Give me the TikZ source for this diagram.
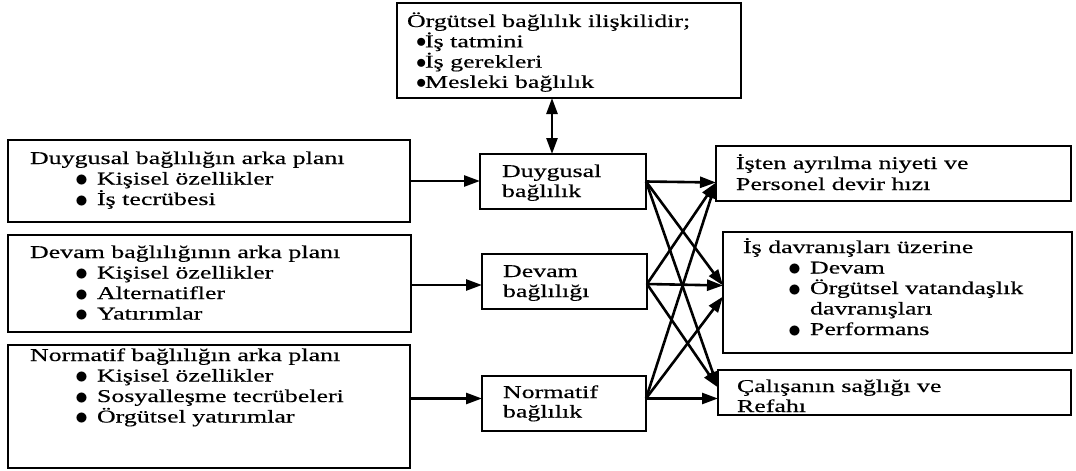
\documentclass[tikz,border=0pt]{standalone}
\usepackage{fontspec}
\usepackage{graphicx}
\setmainfont{Liberation Serif}[FakeStretch=1.44, FakeBold=0.35]
\usetikzlibrary{arrows.meta}

% stacked lines of text whose first baseline sits on the node's base
\newcommand\tlines[2]{\vtop{\baselineskip=#1\lineskiplimit=-20pt\halign{##\hfil\cr#2\crcr}}}
% indented bullet of the list boxes
\newcommand\lb{\hspace*{45pt}\makebox[22pt][l]{\raisebox{-2.2pt}{\scalebox{1.5}{$\bullet$}}}}
% tight bullet of the top box
\newcommand\tb{\hspace*{9pt}\makebox[9pt][l]{\raisebox{-0.5pt}{\scalebox{1.2}{$\bullet$}}}}

\tikzset{
  box/.style={draw=black, line width=1.6pt, inner sep=0pt, outer sep=0pt},
  txt/.style={anchor=base west, inner sep=0pt, outer sep=0pt,
              font=\fontsize{18pt}{20pt}\selectfont},
  tip/.tip={Triangle[length=16pt,width=11pt]},
  arr/.style={line width=2.6pt, -tip},
  darr/.style={line width=2.6pt, tip-tip}
}

\begin{document}
\begin{tikzpicture}[x=1pt, y=-1pt]
\useasboundingbox[fill=white] (0,0) rectangle (1076,471);

% boxes
\node[box, minimum width=344pt, minimum height=95pt]  (T)  at (569,50.5) {};
\node[box, minimum width=402pt, minimum height=82pt]  (L1) at (209,181) {};
\node[box, minimum width=403pt, minimum height=97pt]  (L2) at (209.5,283.5) {};
\node[box, minimum width=402pt, minimum height=123pt] (L3) at (209,406.5) {};
\node[box, minimum width=166pt, minimum height=55pt]  (D)  at (563,181.5) {};
\node[box, minimum width=165pt, minimum height=55pt]  (V)  at (564.5,281.5) {};
\node[box, minimum width=164pt, minimum height=55pt]  (N)  at (564,403.5) {};
\node[box, minimum width=355pt, minimum height=55pt]  (R1) at (893.5,173.5) {};
\node[box, minimum width=349pt, minimum height=121pt] (R2) at (897.5,292.5) {};
\node[box, minimum width=353pt, minimum height=45pt]  (R3) at (894.5,392.5) {};

% texts
\node[txt] (tT) at (407,27) {\tlines{20.3pt}{Örgütsel bağlılık ilişkilidir;\cr
  \tb İş tatmini\cr \tb İş gerekleri\cr \tb Mesleki bağlılık}};
\node[txt] (tL1) at (30,164) {\tlines{20.5pt}{Duygusal bağlılığın arka planı\cr
  \lb Kişisel özellikler\cr \lb İş tecrübesi}};
\node[txt] (tL2) at (30,258) {\tlines{20.5pt}{Devam bağlılığının arka planı\cr
  \lb Kişisel özellikler\cr \lb Alternatifler\cr \lb Yatırımlar}};
\node[txt] (tL3) at (30,361) {\tlines{20.5pt}{Normatif bağlılığın arka planı\cr
  \lb Kişisel özellikler\cr \lb Sosyalleşme tecrübeleri\cr \lb Örgütsel yatırımlar}};
\node[txt] (tD) at (502,177) {\tlines{20pt}{Duygusal\cr bağlılık}};
\node[txt] (tV) at (503,277) {\tlines{20pt}{Devam\cr bağlılığı}};
\node[txt] (tN) at (503,398) {\tlines{19.5pt}{Normatif\cr bağlılık}};
\node[txt] (tR1) at (736,169) {\tlines{21pt}{İşten ayrılma niyeti ve\cr Personel devir hızı}};
\node[txt] (tR2) at (743,253) {\tlines{20.5pt}{İş davranışları üzerine\cr
  \lb Devam\cr \lb Örgütsel vatandaşlık\cr \hspace*{67pt}davranışları\cr \lb Performans}};
\node[txt] (tR3) at (737,392) {\tlines{20pt}{Çalışanın sağlığı ve\cr Refahı}};

% ends of the connectors
\coordinate (dO) at (D.east);
\coordinate (vO) at ([yshift=-2.5pt]V.east);
\coordinate (nO) at ([yshift=5pt]N.east);
\coordinate (r1)  at ([yshift=-9pt]R1.west);
\coordinate (r2a) at ([yshift=7pt]R2.west);
\coordinate (r2b) at ([yshift=-4pt]R2.west);
\coordinate (r3a) at ([yshift=5pt]R3.west);
\coordinate (r3b) at ([yshift=-6pt]R3.west);
\coordinate (up)  at ([xshift=-11pt]D.north);

% antecedents to forms of commitment
\draw[arr] (L1.east) -- (L1.east -| D.west);
\draw[arr] ([yshift=-1.5pt]L2.east) -- ([yshift=-1.5pt]L2.east -| V.west);
\draw[arr] (L3.east |- nO) -- (nO -| N.west);

% link to the top box
\draw[darr] (up) -- (up |- T.south);

% forms of commitment to outcomes
\draw[arr] (dO) -- (r1);
\draw[arr] (dO) -- (r2a);
\draw[arr] (dO) -- (r3a);
\draw[arr] (vO) -- (r1);
\draw[arr] (vO) -- (r2a);
\draw[arr] (vO) -- (r3a);
\draw[arr] (nO) -- (r1);
\draw[arr] (nO) -- (r2b);
\draw[arr] (nO) -- (r3b);
\end{tikzpicture}
\end{document}
